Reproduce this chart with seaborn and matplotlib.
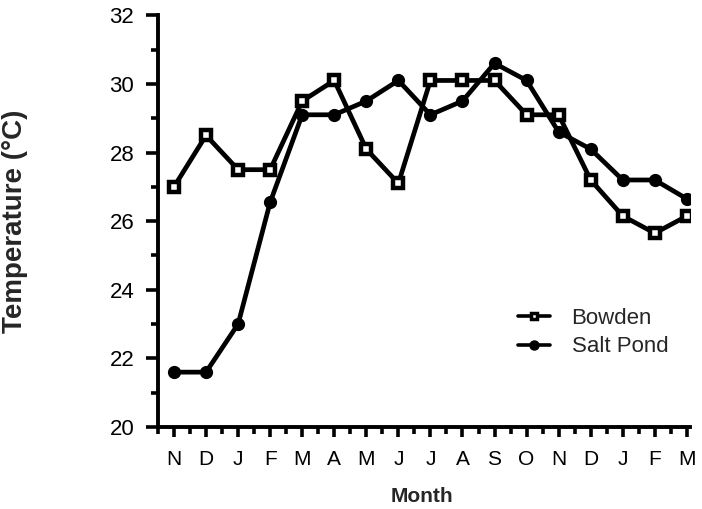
import matplotlib
matplotlib.use("Agg")
import matplotlib.pyplot as plt
import seaborn as sns
import pandas as pd
import numpy as np
from matplotlib.ticker import MultipleLocator

months = ["N", "D", "J", "F", "M", "A", "M", "J", "J", "A", "S", "O", "N", "D", "J", "F", "M"]
bowden = [27.0, 28.5, 27.5, 27.5, 29.5, 30.1, 28.1, 27.1, 30.1, 30.1, 30.1, 29.1, 29.1, 27.2, 26.15, 25.65, 26.15]
salt_pond = [21.6, 21.6, 23.0, 26.55, 29.1, 29.1, 29.5, 30.1, 29.1, 29.5, 30.6, 30.1, 28.6, 28.1, 27.2, 27.2, 26.65]

sns.set_theme(style="ticks")
plt.rcParams['font.family'] = ['Liberation Sans', 'DejaVu Sans']

fig = plt.figure(figsize=(7.02, 5.09), dpi=100)
ax = fig.add_axes([0.225, 0.161, 0.758, 0.809])

idx = np.arange(len(months))
df = pd.DataFrame({"idx": idx, "Bowden": bowden, "Salt Pond": salt_pond})

sns.lineplot(data=df, x="idx", y="Bowden", ax=ax, color="black", linewidth=3.4,
             marker="s", markersize=6.5, markerfacecolor="white", markeredgecolor="black",
             markeredgewidth=3.2, label="Bowden", zorder=3)
sns.lineplot(data=df, x="idx", y="Salt Pond", ax=ax, color="black", linewidth=3.4,
             marker="o", markersize=8, markerfacecolor="black", markeredgecolor="black",
             markeredgewidth=1.5, label="Salt Pond", zorder=2)

ax.set_xlim(-0.5, 16.1)
ax.set_ylim(20, 32)
ax.set_xticks(idx)
ax.set_xticklabels(months)
ax.xaxis.set_minor_locator(MultipleLocator(0.5))
ax.yaxis.set_major_locator(MultipleLocator(2))
ax.yaxis.set_minor_locator(MultipleLocator(1))
ax.tick_params(axis="both", which="both", direction="out", width=2.6, color="black", labelcolor="black")
ax.tick_params(axis="x", which="major", length=7.5, labelsize=15, pad=9)
ax.tick_params(axis="x", which="minor", length=5)
ax.tick_params(axis="y", which="major", length=9, labelsize=16, pad=8)
ax.tick_params(axis="y", which="minor", length=5)
for s in ["left", "bottom"]:
    ax.spines[s].set_linewidth(2.8)
    ax.spines[s].set_color("black")
sns.despine(ax=ax)

ax.set_xlabel("Month", fontsize=15, fontweight="bold")
ax.set_ylabel("Temperature (°C)", fontsize=20, fontweight="bold")
ax.xaxis.set_label_coords(0.496, -0.145)
ax.yaxis.set_label_coords(-0.245, 0.5)

leg = ax.legend(loc="upper left", bbox_to_anchor=(0.677, 0.29), frameon=False, fontsize=16,
                handlelength=1.45, handletextpad=0.95, labelspacing=0.35, borderaxespad=0, borderpad=0)
for h, ms, mew in zip(leg.legend_handles, [4.5, 6.5], [2.5, 1.0]):
    h.set_markersize(ms)
    h.set_markeredgewidth(mew)
    h.set_linewidth(2.6)

fig.savefig("out.png", dpi=100, facecolor="white")
